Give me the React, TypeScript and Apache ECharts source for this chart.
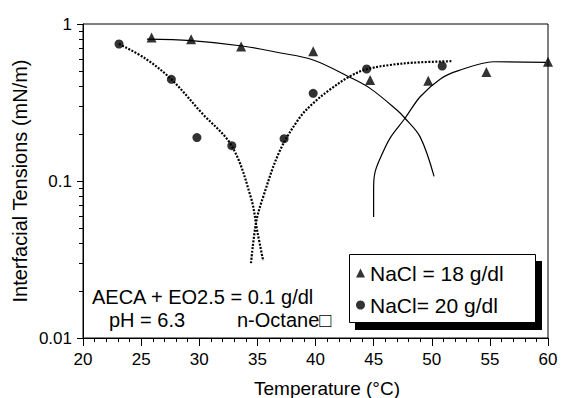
import React, { useEffect, useRef } from 'react';
import * as echarts from 'echarts';

// Axis ranges
const xMin = 20;
const xMax = 60;
const xStep = 5;
const yMin = 0.01;
const yMax = 1;

// Measured points: [temperature °C, interfacial tension mN/m]
const naCl18Points = [
  [25.9, 0.82], [29.3, 0.8], [33.6, 0.72], [39.8, 0.67],
  [44.7, 0.44], [49.7, 0.435], [54.7, 0.495], [60, 0.575],
];
const naCl20Points = [
  [23.1, 0.746], [27.6, 0.444], [29.8, 0.189], [32.8, 0.168],
  [37.3, 0.186], [39.8, 0.362], [44.4, 0.517], [50.9, 0.54],
];

// Fitted curves
const naCl18LowBranch = [
  [25.5, 0.8], [29.3, 0.783], [33.7, 0.724], [36.9, 0.656], [39.8, 0.59],
  [42.9, 0.46], [44.7, 0.389], [47.0, 0.283], [47.7, 0.251], [49.0, 0.191], [50.2, 0.107],
];
const naCl18HighBranch = [
  [45.0, 0.059], [45.0, 0.09], [45.1, 0.112], [45.5, 0.136], [46.4, 0.187],
  [47.7, 0.251], [49.0, 0.344], [50.8, 0.45], [52.3, 0.505], [55.3, 0.575], [59.8, 0.57],
];
const naCl20LowBranch = [
  [23.1, 0.746], [25.4, 0.6], [27.6, 0.444], [30.2, 0.272], [32.8, 0.167],
  [34.46, 0.0776], [35.0, 0.0475], [35.5, 0.031],
];
const naCl20HighBranch = [
  [34.45, 0.03], [34.9, 0.055], [35.46, 0.0776], [36.9, 0.154], [38.6, 0.251],
  [39.8, 0.313], [41.2, 0.38], [42.9, 0.462], [44.4, 0.515], [46.4, 0.548],
  [48.4, 0.567], [51.8, 0.58],
];

// Log-axis minor ticks
const yMinorTicks = [
  0.02, 0.03, 0.04, 0.05, 0.06, 0.07, 0.08, 0.09,
  0.2, 0.3, 0.4, 0.5, 0.6, 0.7, 0.8, 0.9,
];

const seriesNames = ['NaCl = 18 g/dl', 'NaCl= 20 g/dl'];
const xTitle = 'Temperature (°C)';
const yTitle = 'Interfacial Tensions (mN/m)';
const noteLine1 = 'AECA + EO2.5 = 0.1 g/dl';
const notePh = 'pH = 6.3';
const noteOil = 'n-Octane□';

const FONT = "'Liberation Sans', Arial, Helvetica, sans-serif";

export default function App() {
  const ref = useRef<HTMLDivElement>(null);

  useEffect(() => {
    if (!ref.current) return;
    const chart = echarts.init(ref.current, null, { renderer: 'svg' });

    const dotted = { type: [2, 1.5], width: 2.2, color: '#000', cap: 'butt' };
    const solid = { type: 'solid', width: 1.2, color: '#000' };

    chart.setOption({
      animation: false,
      backgroundColor: '#fff',
      textStyle: { fontFamily: FONT },
      grid: {
        left: 83, right: 13, top: 24, bottom: 60,
        show: true, borderColor: '#000', borderWidth: 1, backgroundColor: 'transparent',
      },
      xAxis: {
        type: 'value', min: xMin, max: xMax, interval: xStep,
        axisLine: { onZero: false, lineStyle: { color: '#000', width: 1 } },
        axisTick: { length: 8, lineStyle: { color: '#000', width: 1 } },
        minorTick: { show: true, splitNumber: 5, length: 4, lineStyle: { color: '#000', width: 1 } },
        splitLine: { show: false },
        minorSplitLine: { show: false },
        axisLabel: { color: '#000', fontSize: 17, margin: 13, fontFamily: FONT },
      },
      yAxis: {
        type: 'log', logBase: 10, min: yMin, max: yMax,
        axisLine: { lineStyle: { color: '#000', width: 1 } },
        axisTick: { length: 6, lineStyle: { color: '#000', width: 1 } },
        splitLine: { show: false },
        axisLabel: { color: '#000', fontSize: 17, margin: 11, fontFamily: FONT },
      },
      legend: {
        show: true,
        data: seriesNames,
        orient: 'vertical',
        left: 356, top: 262,
        padding: 0,
        itemGap: 10,
        itemWidth: 9, itemHeight: 9,
        z: 10,
        textStyle: { color: '#000', fontSize: 21, lineHeight: 22, fontFamily: FONT },
        selectedMode: false,
      },
      graphic: [
        { type: 'rect', z: 1, shape: { x: 355, y: 261, width: 187, height: 69 }, style: { fill: '#000' } },
        { type: 'rect', z: 2, shape: { x: 349.5, y: 254.5, width: 186, height: 68 }, style: { fill: '#fff', stroke: '#000', lineWidth: 1 } },
        { type: 'text', x: 92, y: 297, style: { text: noteLine1, fill: '#000', font: `20px ${FONT}`, verticalAlign: 'middle' } },
        { type: 'text', x: 109, y: 320, style: { text: notePh, fill: '#000', font: `20px ${FONT}`, verticalAlign: 'middle' } },
        { type: 'text', x: 237, y: 320, style: { text: noteOil, fill: '#000', font: `20px ${FONT}`, verticalAlign: 'middle' } },
        { type: 'text', x: 327, y: 388, style: { text: xTitle, fill: '#000', font: `19px ${FONT}`, align: 'center', verticalAlign: 'middle' } },
        { type: 'text', x: 20, y: 181, rotation: Math.PI / 2, style: { text: yTitle, fill: '#000', font: `20px ${FONT}`, align: 'center', verticalAlign: 'middle' } },
      ],
      series: [
        {
          type: 'custom',
          silent: true,
          clip: false,
          z: 6,
          data: yMinorTicks.map((v) => [xMin, v]),
          encode: { x: 0, y: 1 },
          renderItem: (_params: any, api: any) => {
            const p = api.coord([api.value(0), api.value(1)]);
            const y = Math.round(p[1]) + 0.5;
            return {
              type: 'line',
              shape: { x1: p[0] - 4, y1: y, x2: p[0], y2: y },
              style: { stroke: '#000', lineWidth: 1 },
            };
          },
        },
        { type: 'line', data: naCl18LowBranch, showSymbol: false, smooth: 0.35, lineStyle: solid, silent: true },
        { type: 'line', data: naCl18HighBranch, showSymbol: false, smooth: 0.3, lineStyle: solid, silent: true },
        { type: 'line', data: naCl20LowBranch, showSymbol: false, smooth: 0.35, lineStyle: dotted, silent: true },
        { type: 'line', data: naCl20HighBranch, showSymbol: false, smooth: 0.35, lineStyle: dotted, silent: true },
        {
          name: seriesNames[0], type: 'scatter', symbol: 'triangle', symbolSize: 10,
          itemStyle: { color: '#000' }, data: naCl18Points, z: 5,
        },
        {
          name: seriesNames[1], type: 'scatter', symbol: 'circle', symbolSize: 9,
          itemStyle: { color: '#000' }, data: naCl20Points, z: 5,
        },
      ],
    });

    return () => chart.dispose();
  }, []);

  return (
    <div
      ref={ref}
      style={{ position: 'fixed', left: 0, top: 0, width: 561, height: 398, background: '#fff' }}
    />
  );
}
